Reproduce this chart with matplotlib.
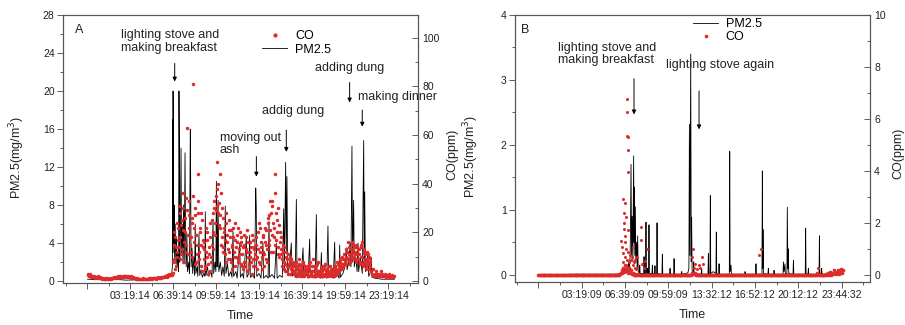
import numpy as np
import matplotlib
matplotlib.use('Agg')
import matplotlib.pyplot as plt
from matplotlib.ticker import FixedLocator, MultipleLocator

plt.rcParams['font.family'] = ['Liberation Sans', 'DejaVu Sans']

# ---- panel A data (time in hours, PM2.5 in mg/m3, CO in ppm) ----
pm_a_t = [0.0, 1.0, 2.0, 3.0, 4.0, 5.0, 6.0, 6.5,
          6.58, 6.60, 6.62, 6.63, 6.66, 6.68, 6.72, 6.75, 6.80, 6.85, 6.90, 6.95, 7.00,
          7.06, 7.09, 7.12, 7.15, 7.20, 7.25, 7.29, 7.35, 7.40, 7.45, 7.50, 7.56, 7.60,
          7.65, 7.70, 7.75, 7.85, 7.90, 7.97, 8.00, 8.03, 8.10, 8.15, 8.25, 8.30, 8.35,
          8.40, 8.50, 8.55, 8.64, 8.70, 8.80, 8.90, 9.00, 9.10, 9.13, 9.18, 9.30, 9.40,
          9.55, 9.65, 9.73, 9.78, 9.88, 9.95, 9.99, 10.03, 10.05, 10.12, 10.18, 10.30,
          10.40, 10.50, 10.60, 10.68, 10.73, 10.85, 10.95, 11.10, 11.20, 11.28, 11.33,
          11.50, 11.60, 11.80, 11.85, 12.00, 12.10, 12.31, 12.36, 12.50, 12.57, 12.62,
          12.80, 12.95, 13.04, 13.08, 13.12, 13.30, 13.45, 13.60, 13.65, 13.85, 14.00,
          14.07, 14.12, 14.30, 14.50, 14.64, 14.70, 14.90, 15.10, 15.21, 15.26, 15.36,
          15.41, 15.46, 15.52, 15.65, 15.80, 15.85, 16.00, 16.10, 16.19, 16.24, 16.40,
          16.55, 16.71, 16.76, 16.95, 17.10, 17.22, 17.27, 17.50, 17.65, 17.74, 17.79,
          17.95, 18.05, 18.13, 18.18, 18.40, 18.55, 18.64, 18.69, 18.90, 19.05, 19.16,
          19.21, 19.40, 19.50, 19.55, 19.60, 19.80, 19.95, 20.06, 20.12, 20.25, 20.35,
          20.42, 20.50, 20.55, 20.63, 20.68, 20.80, 20.90, 20.97, 21.02, 21.15, 21.30,
          21.41, 21.45, 21.49, 21.54, 21.65, 21.74, 21.80, 21.95, 22.00, 22.05, 22.30,
          22.80, 23.30, 23.80]
pm_a_v = [0.2, 0.15, 0.2, 0.1, 0.15, 0.2, 0.3, 0.5,
          1.5, 17.0, 3.0, 20.0, 13.5, 4.0, 8.0, 2.5, 6.0, 1.8, 4.5, 1.5, 3.0,
          1.0, 20.0, 13.8, 2.0, 5.0, 14.0, 3.0, 6.0, 1.8, 8.0, 2.0, 13.5, 4.0,
          1.5, 5.0, 1.0, 2.0, 0.8, 16.0, 10.0, 1.5, 3.5, 0.8, 2.5, 0.6, 6.0,
          0.8, 1.5, 0.5, 5.0, 0.6, 1.2, 0.4, 0.8, 0.5, 7.3, 0.6, 1.5, 0.5,
          1.0, 0.4, 6.5, 0.8, 2.0, 1.0, 10.5, 3.0, 1.5, 8.5, 1.0, 2.0,
          0.6, 1.5, 0.5, 7.9, 0.8, 1.8, 0.5, 1.0, 0.4, 5.2, 0.5,
          1.0, 0.3, 4.0, 0.4, 0.8, 0.3, 4.6, 0.4, 0.8, 4.8, 0.4,
          0.6, 0.3, 9.8, 8.0, 0.5, 0.8, 0.3, 4.0, 0.3, 0.6, 0.3,
          6.3, 0.4, 0.7, 0.3, 4.0, 0.3, 0.6, 0.4, 7.6, 1.0, 12.5,
          3.0, 11.0, 0.8, 1.5, 4.0, 0.5, 1.0, 0.4, 8.6, 0.5, 1.2,
          0.4, 3.5, 0.4, 0.8, 0.3, 4.4, 0.4, 0.6, 0.3, 7.0, 0.4,
          0.8, 0.3, 3.0, 0.3, 0.6, 0.3, 5.8, 0.4, 0.6, 0.3, 4.1,
          0.4, 0.6, 0.3, 3.8, 0.4, 0.8, 1.5, 3.5, 1.2, 2.0, 4.0,
          1.5, 14.2, 2.0, 8.5, 1.5, 2.5, 1.0, 4.0, 1.0, 2.5, 0.8,
          14.8, 2.0, 9.4, 1.0, 1.5, 3.1, 0.5, 1.0, 2.5, 0.4, 0.3,
          0.2, 0.2, 0.2]

# CO, one reading every 4 minutes from 00:00 (15 per hour)
co_a = [3.0, 2.6, 2.2, 2.8, 1.8, 2.0, 1.5, 2.2, 1.6, 1.2, 1.8, 1.4, 2.0, 1.3, 1.1,
        1.5, 1.2, 0.9, 1.3, 1.0, 0.8, 1.1, 0.9, 1.2, 0.8, 1.0, 1.3, 0.9, 1.1, 1.4,
        1.2, 1.6, 1.3, 1.8, 1.5, 1.9, 1.4, 1.7, 2.0, 1.6, 1.8, 2.1, 1.7, 2.3, 1.9,
        2.0, 1.7, 2.2, 1.8, 1.5, 1.9, 1.4, 1.2, 1.6, 1.1, 1.3, 1.0, 1.2, 0.9, 1.0,
        0.8, 1.0, 0.7, 0.9, 0.8, 1.1, 0.7, 0.9, 0.8, 1.0, 0.9, 1.2, 0.8, 1.0, 1.1,
        1.0, 1.3, 1.1, 1.4, 1.2, 1.0, 1.3, 1.5, 1.2, 1.4, 1.6, 1.3, 1.5, 1.8, 1.6,
        1.9, 2.2, 1.8, 2.5, 2.1, 2.8, 2.4, 3.0, 2.6, 3.2, 15.0, 9.0, 18.0, 6.0, 12.0,
        22, 14, 28, 18, 11, 25, 30, 16, 20, 34, 12, 63, 19, 27, 15,
        18, 26, 10, 81, 22, 30, 8, 15, 28, 44, 12, 20, 6, 25, 14,
        9, 16, 5, 12, 20, 7, 14, 4, 18, 10, 25, 13, 30, 19, 35,
        38, 49, 28, 32, 22, 36, 18, 26, 14, 20, 11, 24, 16, 9, 21,
        12, 18, 8, 15, 22, 10, 17, 6, 14, 19, 9, 13, 20, 7, 16,
        11, 5, 15, 8, 18, 4, 12, 16, 7, 10, 14, 3, 17, 9, 13,
        6, 15, 10, 20, 8, 12, 22, 14, 5, 18, 11, 16, 9, 21, 13,
        24, 15, 33, 28, 19, 33, 12, 22, 44, 17, 25, 14, 30, 10, 20,
        18, 9, 12, 5, 14, 7, 10, 4, 11, 6, 8, 3, 9, 5, 7,
        4, 6, 2, 8, 3, 5, 7, 2, 6, 4, 3, 7, 2, 5, 4,
        3, 6, 2, 5, 8, 3, 4, 2, 6, 3, 5, 2, 7, 4, 3,
        2, 5, 3, 4, 2, 6, 3, 2, 4, 5, 2, 3, 6, 2, 4,
        3, 5, 2, 6, 4, 3, 7, 5, 4, 8, 6, 5, 9, 7, 8,
        10, 7, 12, 9, 14, 8, 11, 13, 9, 15, 10, 12, 8, 14, 11,
        9, 13, 7, 15, 10, 6, 12, 8, 11, 5, 9, 7, 10, 6, 8,
        4, 3, 5, 2, 3, 4, 2, 3, 2, 3, 2, 4, 2, 3, 2,
        2, 3, 1.5, 2.5, 2, 1.5, 2.8, 2, 1.6, 2.4, 1.8, 2.2]
# second CO reading 2 minutes later in each slot, from 06:36 to 22:00
co_a2_start = 6.6
co_a2 = [8, 20, 5, 14, 24, 10,
         17, 31, 9, 23, 13, 36, 21, 8, 26, 15, 29, 11, 22, 33, 18,
         12, 24, 35, 16, 7, 27, 19, 11, 33, 9, 22, 15, 28, 4, 17,
         13, 6, 22, 10, 17, 3, 11, 24, 8, 15, 28, 20, 33, 24, 29,
         31, 40, 23, 44, 27, 15, 30, 12, 22, 17, 28, 8, 19, 13, 25,
         9, 21, 14, 5, 18, 12, 24, 10, 16, 8, 22, 11, 15, 18, 6,
         14, 8, 19, 6, 13, 21, 10, 5, 16, 12, 8, 19, 6, 14, 11,
         9, 18, 5, 13, 24, 7, 16, 10, 19, 12, 6, 22, 15, 8, 26,
         17, 27, 21, 12, 31, 24, 18, 36, 15, 28, 20, 11, 23, 16, 13,
         11, 6, 15, 8, 4, 12, 6, 9, 3, 7, 10, 5, 4, 8, 6,
         3, 7, 5, 2, 6, 4, 9, 3, 5, 2, 8, 4, 6, 3, 5,
         5, 2, 7, 4, 3, 6, 2, 9, 4, 2, 6, 3, 4, 8, 2,
         4, 3, 6, 2, 5, 3, 7, 4, 2, 3, 6, 4, 3, 5, 3,
         4, 2, 6, 3, 5, 8, 4, 6, 9, 5, 7, 10, 6, 11, 9,
         13, 9, 16, 11, 7, 13, 10, 16, 12, 9, 14, 11, 15, 9, 13,
         11, 8, 14, 10, 16, 7, 13, 9, 6, 12, 8, 11, 5, 9, 4]

ticks_a = [-0.013, 3.32, 6.654, 9.987, 13.32, 16.654, 19.987, 23.32]
labels_a = ['', '03:19:14', '06:39:14', '09:59:14', '13:19:14', '16:39:14',
            '19:59:14', '23:19:14']

# ---- panel B data (x = position along the record, in hour-like units) ----
pm_b_points = [
    (0.0, 0.0), (3.0, 0.01), (6.0, 0.01), (6.3, 0.02), (6.4, 0.05), (6.5, 0.02),
    (6.7, 0.1), (6.8, 0.03), (6.95, 0.2), (7.0, 0.05), (7.06, 0.3), (7.08, 0.6),
    (7.13, 1.70), (7.17, 0.3), (7.22, 0.9), (7.27, 0.2), (7.33, 1.83), (7.36, 0.5),
    (7.38, 1.35), (7.42, 0.3), (7.46, 1.05), (7.50, 0.2), (7.56, 0.5), (7.60, 0.1),
    (7.64, 0.6), (7.68, 0.05), (7.78, 0.03), (7.80, 0.15), (7.83, 0.02),
    (8.10, 0.02), (8.13, 0.28), (8.16, 0.02), (8.25, 0.02), (8.28, 0.81), (8.31, 0.03),
    (8.37, 0.02), (8.40, 0.1), (8.43, 0.02), (8.48, 0.02), (8.51, 0.77), (8.54, 0.02),
    (8.74, 0.02), (8.77, 0.15), (8.80, 0.02), (8.94, 0.02), (8.97, 0.14), (9.00, 0.02),
    (9.10, 0.02), (9.13, 0.80), (9.16, 0.02), (9.51, 0.01), (9.54, 0.32), (9.57, 0.01),
    (10.10, 0.01), (10.13, 0.1), (10.16, 0.01), (10.41, 0.01), (10.44, 0.25),
    (10.47, 0.01), (11.00, 0.01), (11.03, 0.05), (11.06, 0.01), (11.50, 0.03),
    (11.58, 0.1), (11.62, 2.32), (11.66, 0.3), (11.72, 3.40), (11.76, 0.2),
    (11.79, 0.88), (11.83, 0.05), (11.92, 0.02), (11.95, 0.2), (11.98, 0.02),
    (12.53, 0.01), (12.56, 0.1), (12.59, 0.01), (13.05, 0.01), (13.08, 0.33),
    (13.11, 0.02), (13.20, 0.02), (13.23, 1.22), (13.26, 0.02), (13.45, 0.05),
    (13.66, 0.02), (13.69, 0.66), (13.72, 0.02), (13.87, 0.01), (13.90, 0.17),
    (13.93, 0.01), (14.69, 0.01), (14.72, 1.90), (14.75, 0.05), (14.82, 0.15),
    (14.85, 0.01), (15.87, 0.01), (15.90, 0.05), (15.93, 0.01), (16.71, 0.01),
    (16.74, 0.17), (16.77, 0.01), (17.20, 0.01), (17.23, 1.60), (17.26, 0.1),
    (17.28, 0.7), (17.31, 0.02), (17.66, 0.01), (17.69, 0.1), (17.72, 0.01),
    (18.10, 0.01), (18.13, 0.07), (18.16, 0.01), (18.82, 0.01), (18.85, 0.2),
    (18.90, 0.05), (18.97, 0.17), (19.00, 0.02), (19.12, 0.02), (19.15, 1.04),
    (19.19, 0.1), (19.23, 0.4), (19.26, 0.02), (19.59, 0.01), (19.62, 0.22),
    (19.65, 0.01), (20.53, 0.01), (20.56, 0.72), (20.59, 0.02), (20.74, 0.01),
    (20.77, 0.1), (20.80, 0.01), (21.59, 0.01), (21.62, 0.6), (21.65, 0.02),
    (21.76, 0.01), (21.79, 0.1), (21.82, 0.01), (22.53, 0.01), (22.56, 0.05),
    (22.59, 0.01), (23.46, 0.02)]
pm_b_t = [p[0] for p in pm_b_points]
pm_b_v = [p[1] for p in pm_b_points]

# CO baseline, one reading every 4 minutes (15 per hour)
co_b = [0, 0, 0, 0, 0, 0, 0, 0, 0, 0, 0, 0, 0, 0, 0,
        0, 0, 0, 0, 0, 0, 0, 0, 0, 0, 0, 0, 0, 0, 0,
        0, 0, 0, 0, 0, 0, 0, 0, 0, 0, 0, 0, 0, 0, 0,
        0, 0, 0, 0, 0, 0, 0, 0, 0, 0, 0, 0, 0, 0, 0,
        0, 0, 0, 0, 0, 0, 0, 0, 0, 0, 0, 0, 0, 0, 0,
        0, 0, 0, 0, 0, 0, 0, 0, 0, 0, 0, 0, 0, 0, 0,
        0, 0, 0, 0, 0.05, 0.1, 0.2, 0.1, 0.3, 0.15, 0.4, 0.2, 0.3, 0.1, 0.2,
        0.3, 0.1, 0.2, 0.05, 0.1, 0, 0, 0.05, 0, 0, 0.05, 0, 0, 0, 0,
        0, 0, 0, 0, 0, 0, 0, 0, 0, 0, 0, 0, 0, 0, 0,
        0, 0, 0, 0, 0, 0, 0, 0, 0, 0, 0, 0, 0, 0, 0,
        0, 0, 0, 0, 0, 0, 0, 0, 0, 0, 0, 0, 0, 0, 0,
        0, 0, 0, 0, 0, 0, 0, 0, 0, 0, 0, 0, 0.1, 0.05, 0.1,
        0.05, 0.1, 0, 0, 0, 0, 0, 0, 0, 0, 0, 0, 0, 0, 0,
        0, 0, 0, 0, 0, 0, 0, 0, 0, 0, 0, 0, 0, 0, 0,
        0, 0, 0, 0, 0, 0, 0, 0, 0, 0, 0, 0, 0, 0, 0,
        0, 0, 0, 0, 0, 0, 0, 0, 0, 0, 0, 0, 0, 0, 0,
        0, 0, 0, 0, 0, 0, 0, 0, 0, 0, 0, 0, 0, 0, 0,
        0, 0, 0, 0, 0, 0, 0, 0, 0, 0, 0, 0, 0, 0, 0,
        0, 0, 0, 0, 0, 0, 0, 0, 0, 0, 0, 0, 0, 0, 0,
        0, 0, 0, 0, 0, 0, 0, 0, 0, 0, 0, 0, 0, 0, 0,
        0, 0, 0, 0, 0, 0, 0, 0, 0, 0, 0, 0, 0, 0, 0,
        0, 0, 0, 0, 0, 0, 0, 0.1, 0.05, 0, 0, 0, 0, 0, 0,
        0, 0, 0.05, 0, 0.1, 0, 0.05, 0.15, 0, 0.1, 0.05, 0.2, 0.1, 0.05, 0.15,
        0.1, 0.2, 0.05, 0.15, 0.25, 0.1, 0.2]
# scattered higher CO readings in panel B
co_b_pk_t = [6.33, 6.41, 6.50, 6.54, 6.54, 6.56, 6.58, 6.62, 6.62, 6.64, 6.67, 6.67,
             6.70, 6.72, 6.75, 6.78, 6.82, 6.82, 6.82, 6.84, 6.87, 6.87, 6.87, 6.90,
             6.92, 6.95, 7.00, 7.05, 7.10, 7.18, 7.25, 7.31, 7.35, 7.40, 7.44, 7.50,
             7.56, 7.60, 7.90, 7.90, 7.95, 8.10, 8.20, 8.33, 11.85, 11.92, 11.98,
             12.05, 12.20, 12.35, 12.44, 12.56, 12.69, 17.00, 17.13, 21.54]
co_b_pk_v = [1.33, 1.1, 0.5, 0.85, 2.92, 2.0, 0.3, 2.38, 1.8, 1.5, 2.8, 0.72,
             1.28, 2.25, 1.0, 0.4, 6.79, 6.29, 5.35, 0.6, 5.3, 4.8, 3.98, 0.9,
             1.74, 0.5, 0.3, 0.8, 0.6, 0.72, 0.4, 1.1, 0.5, 0.3, 0.6, 0.25,
             0.72, 0.3, 1.87, 1.38, 0.45, 0.3, 0.55, 1.0, 0.72, 1.0, 0.3,
             0.45, 0.25, 0.4, 0.27, 0.72, 0.45, 0.78, 1.0, 0.27]

ticks_b = [0.0, 3.333, 6.667, 10.0, 13.333, 16.667, 20.0, 23.333]
labels_b = ['', '03:19:09', '06:39:09', '09:59:09', '13:32:12', '16:52:12',
            '20:12:12', '23:44:32']

red = '#dd2a2a'
txt = '#222222'
step = 4 / 60.0


def style(ax, ax2, ticks, labels):
    for a in (ax, ax2):
        for s in a.spines.values():
            s.set_color('#555555')
            s.set_linewidth(0.8)
    ax.xaxis.set_major_locator(FixedLocator(ticks))
    ax.set_xticklabels(labels)
    mids = [(ticks[i] + ticks[i + 1]) / 2 for i in range(len(ticks) - 1)]
    ax.xaxis.set_minor_locator(FixedLocator(mids + [ticks[0] - 1.667, ticks[-1] + 1.667]))
    ax.tick_params(which='major', direction='out', length=4, width=0.6,
                   labelsize=7.5, colors='#444444', labelcolor=txt, pad=2)
    ax.tick_params(which='minor', direction='out', length=2, width=0.6, colors='#444444')
    ax2.tick_params(which='major', direction='in', length=4, width=0.6,
                    labelsize=7.5, colors='#444444', labelcolor=txt, pad=3)
    ax2.tick_params(which='minor', direction='in', length=2, width=0.6, colors='#444444')
    ax.set_xlabel('Time', fontsize=9, color=txt)
    ax.xaxis.set_label_coords(0.5, -0.10)


fig = plt.figure(figsize=(9.05, 3.25), dpi=100)

# ---------------- A ----------------
ax = fig.add_axes([63 / 905, 42 / 325, 355 / 905, 268 / 325])
ax2 = ax.twinx()
pm_line, = ax.plot(pm_a_t, pm_a_v, color='k', lw=0.6, label='PM2.5')
co_t = np.arange(len(co_a)) * step
co_pts, = ax2.plot(co_t, co_a, 'o', color=red, ms=2.5, mew=0, label='CO')
co_t2 = co_a2_start + np.arange(len(co_a2)) * step + step / 2
ax2.plot(co_t2, co_a2, 'o', color=red, ms=2.5, mew=0)
ax.set_xlim(-1.90, 25.62)
ax.set_ylim(-0.2, 28)
ax2.set_ylim(-0.78, 109.3)
ax.yaxis.set_major_locator(MultipleLocator(4))
ax.yaxis.set_minor_locator(MultipleLocator(2))
ax2.yaxis.set_major_locator(FixedLocator([0, 20, 40, 60, 80, 100]))
ax2.yaxis.set_minor_locator(MultipleLocator(10))
style(ax, ax2, ticks_a, labels_a)
ax.set_ylabel('PM2.5(mg/m$^3$)', fontsize=9, color=txt)
ax.yaxis.set_label_coords(-0.101, 0.47)
ax2.set_ylabel('CO(ppm)', fontsize=9, color=txt)
ax2.yaxis.set_label_coords(1.079, 0.48)
ax2.legend([co_pts, pm_line], ['CO', 'PM2.5'], loc='upper left',
           bbox_to_anchor=(0.53, 0.985), frameon=False, fontsize=9,
           handlelength=2.0, markerscale=1.2, labelspacing=0.1, handletextpad=0.6)
ax.text(0.033, 0.945, 'A', transform=ax.transAxes, fontsize=9, color=txt,
        ha='left', va='center')

arr = dict(arrowstyle='-|>', color='k', lw=0.7, mutation_scale=6, shrinkA=0, shrinkB=0)
ax.text(2.62, 25.2, 'lighting stove and\nmaking breakfast', fontsize=9, color=txt,
        ha='left', va='center', linespacing=1.05)
ax.annotate('', xy=(6.76, 21.0), xytext=(6.76, 22.9), arrowprops=arr)
ax.text(10.25, 14.4, 'moving out\nash', fontsize=9, color=txt, ha='left',
        va='center', linespacing=1.05)
ax.annotate('', xy=(13.09, 11.0), xytext=(13.09, 13.1), arrowprops=arr)
ax.text(13.55, 17.9, 'addig dung', fontsize=9, color=txt, ha='left', va='center')
ax.annotate('', xy=(15.41, 13.6), xytext=(15.41, 15.9), arrowprops=arr)
ax.text(17.61, 22.45, 'adding dung', fontsize=9, color=txt, ha='left', va='center')
ax.annotate('', xy=(20.32, 18.8), xytext=(20.32, 20.9), arrowprops=arr)
ax.text(20.97, 19.4, 'making dinner', fontsize=9, color=txt, ha='left', va='center')
ax.annotate('', xy=(21.3, 16.25), xytext=(21.3, 18.0), arrowprops=arr)

# ---------------- B ----------------
bx = fig.add_axes([515 / 905, 43 / 325, 355 / 905, 267 / 325])
bx2 = bx.twinx()
pm_line_b, = bx.plot(pm_b_t, pm_b_v, color='k', lw=0.6, label='PM2.5')
co_tb = np.arange(len(co_b)) * step
co_pts_b, = bx2.plot(co_tb, co_b, 'o', color=red, ms=2.6, mew=0, label='CO')
bx2.plot(co_b_pk_t, co_b_pk_v, 'o', color=red, ms=2.2, mew=0)
bx.set_xlim(-1.795, 25.51)
bx.set_ylim(-0.11, 4)
bx2.set_ylim(-0.25, 10)
bx.yaxis.set_major_locator(MultipleLocator(1))
bx.yaxis.set_minor_locator(MultipleLocator(0.5))
bx2.yaxis.set_major_locator(MultipleLocator(2))
bx2.yaxis.set_minor_locator(MultipleLocator(1))
style(bx, bx2, ticks_b, labels_b)
bx.set_ylabel('PM2.5(mg/m$^3$)', fontsize=9, color=txt)
bx.yaxis.set_label_coords(-0.096, 0.47)
bx2.set_ylabel('CO(ppm)', fontsize=9, color=txt)
bx2.yaxis.set_label_coords(1.062, 0.48)
bx2.legend([pm_line_b, co_pts_b], ['PM2.5', 'CO'], loc='upper left',
           bbox_to_anchor=(0.47, 1.03), frameon=False, fontsize=9,
           handlelength=2.0, markerscale=1.0, labelspacing=0.1, handletextpad=0.6)
bx.text(0.016, 0.945, 'B', transform=bx.transAxes, fontsize=9, color=txt,
        ha='left', va='center')
bx.text(1.54, 3.40, 'lighting stove and\nmaking breakfast', fontsize=9, color=txt,
        ha='left', va='center', linespacing=1.05)
bx.annotate('', xy=(7.36, 2.47), xytext=(7.36, 3.02), arrowprops=arr)
bx.text(9.79, 3.23, 'lighting stove again', fontsize=9, color=txt, ha='left', va='center')
bx.annotate('', xy=(12.36, 2.24), xytext=(12.36, 2.83), arrowprops=arr)

fig.savefig('out.png', dpi=100)
